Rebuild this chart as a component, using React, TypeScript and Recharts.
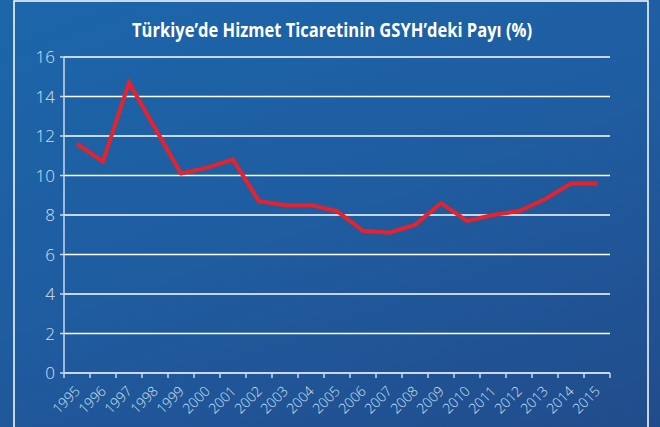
import { LineChart, Line, XAxis, YAxis, CartesianGrid } from 'recharts';

const years = [
  '1995', '1996', '1997', '1998', '1999', '2000', '2001', '2002', '2003', '2004', '2005',
  '2006', '2007', '2008', '2009', '2010', '2011', '2012', '2013', '2014', '2015',
];
const shares = [
  11.6, 10.7, 14.7, 12.4, 10.1, 10.4, 10.8, 8.7, 8.5, 8.5, 8.2,
  7.2, 7.1, 7.5, 8.6, 7.7, 8.0, 8.2, 8.8, 9.6, 9.6,
];
const yTicks = [0, 2, 4, 6, 8, 10, 12, 14, 16];
const title = 'Türkiye’de Hizmet Ticaretinin GSYH’deki Payı (%)';

const W = 660;
const H = 427;
const margin = { top: 57, right: 50, bottom: 4, left: 0 };
const yAxisWidth = 64;
const halfBand = (W - yAxisWidth - margin.right) / years.length / 2;

const AXIS = '#c9d8ec';
const LABEL = '#d4e0f0';
const tickFont = "'Open Sans', 'Noto Sans', sans-serif";

const data = years.map((year, i) => ({ year, value: shares[i] }));

function YearTick({ x, y, payload, index }: any) {
  const last = index === years.length - 1;
  const ax = x + 4;
  const ay = y + 19;
  return (
    <g>
      <line x1={x - halfBand} y1={y} x2={x - halfBand} y2={y + 5} stroke={AXIS} strokeWidth={1.5} />
      {last && <line x1={x + halfBand} y1={y} x2={x + halfBand} y2={y + 5} stroke={AXIS} strokeWidth={1.5} />}
      <text
        x={ax}
        y={ay}
        textAnchor="end"
        transform={`rotate(-45, ${ax}, ${ay})`}
        fill={LABEL}
        fontSize={14}
        fontFamily={tickFont}
        fontWeight={300}
      >
        {payload.value}
      </text>
    </g>
  );
}

export default function App() {
  return (
    <div
      style={{
        position: 'absolute',
        left: 0,
        top: 0,
        width: W,
        height: H,
        overflow: 'hidden',
        background: 'linear-gradient(160deg, #1c66aa 0%, #1f5ca0 50%, #214c8b 100%)',
      }}
    >
      <LineChart width={W} height={H} data={data} margin={margin}>
        <CartesianGrid vertical={false} stroke="#ffffff" strokeWidth={1.5} />
        <XAxis
          dataKey="year"
          scale="band"
          height={50}
          interval={0}
          tickLine={false}
          tickSize={0}
          tickMargin={0}
          stroke={AXIS}
          strokeWidth={1.5}
          tick={<YearTick />}
        />
        <YAxis
          width={yAxisWidth}
          domain={[0, 16]}
          ticks={yTicks}
          interval={0}
          tickSize={4}
          tickMargin={5}
          stroke={AXIS}
          strokeWidth={1.5}
          tick={{ fill: LABEL, fontSize: 17, fontFamily: tickFont, fontWeight: 300 }}
        />
        <Line
          type="linear"
          dataKey="value"
          stroke="#e8212b"
          strokeWidth={4}
          dot={false}
          isAnimationActive={false}
        />
      </LineChart>
      <svg
        width={W}
        height={H}
        style={{ position: 'absolute', left: 0, top: 0, pointerEvents: 'none' }}
      >
        <rect x={14} y={1} width={634} height={H + 10} fill="none" stroke="#ffffff" strokeWidth={1.5} />
        <text
          x={332}
          y={37}
          textAnchor="middle"
          fill="#ffffff"
          fontSize={20}
          fontWeight="bold"
          fontFamily="'Liberation Sans Narrow', 'Open Sans', sans-serif"
          textLength={400}
          lengthAdjust="spacingAndGlyphs"
        >
          {title}
        </text>
      </svg>
    </div>
  );
}
